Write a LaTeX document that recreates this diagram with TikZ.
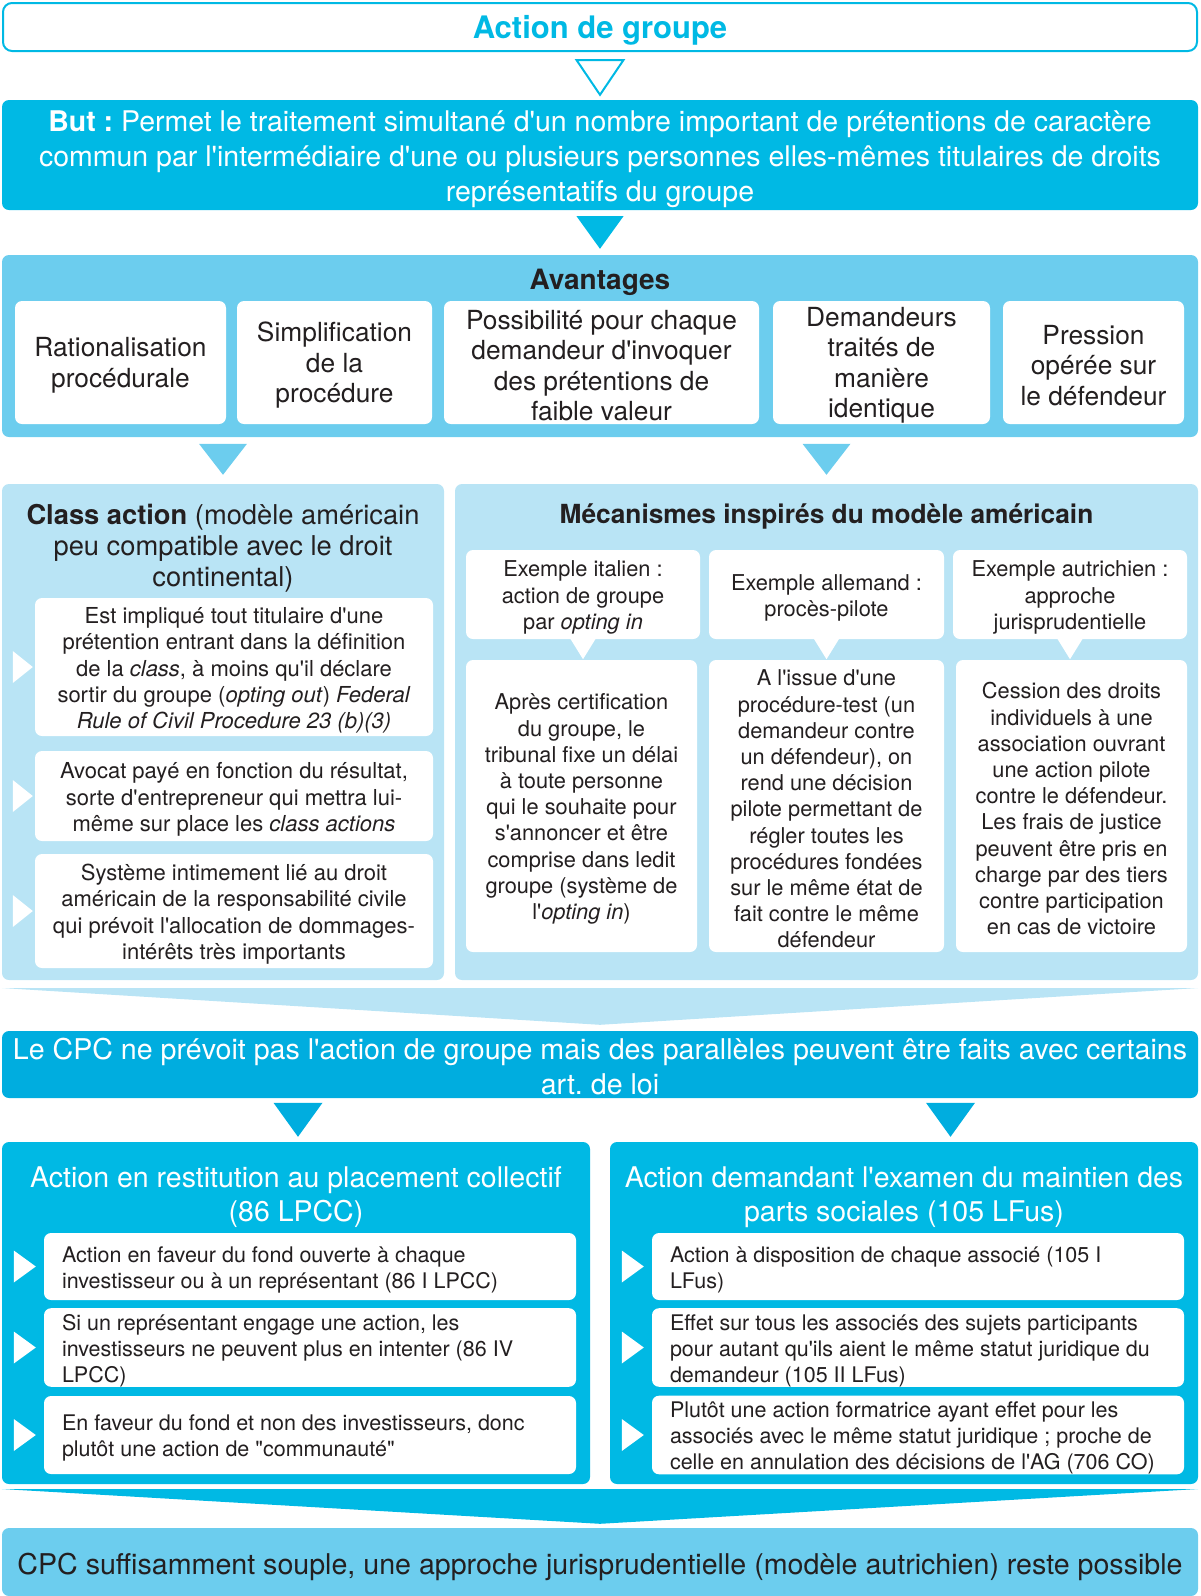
\documentclass[tikz,border=0pt]{standalone}
\usepackage{fontspec}
\setmainfont{TeX Gyre Heros}[Ligatures=TeXOff]
\usetikzlibrary{calc}
\definecolor{cyanmain}{HTML}{00B9E4}
\definecolor{cyandeep}{HTML}{00ADDF}
\definecolor{cyanmid}{HTML}{6CCDEE}
\definecolor{cyanpale}{HTML}{B9E4F5}
\definecolor{ink}{HTML}{231F20}
\newcommand\fs[2]{\fontsize{#1}{#2}\selectfont\frenchspacing}
\begin{document}
\begin{tikzpicture}[x=1pt,y=-1pt,
  panel/.style={rounded corners=7, inner sep=0pt},
  topstrut/.style={execute at begin node={\noindent\rule{0pt}{#1}}},
  boxw/.style={minimum width=#1pt, text width=#1pt},
  wbox/.style={fill=white, rounded corners=7, inner sep=0pt, text=ink, align=flush center},
  itembox/.style={fill=white, rounded corners=7, inner sep=0pt, text=ink, align=flush left},
  lbl/.style={inner sep=0pt, align=center}]
\useasboundingbox (0,0) rectangle (1200,1596);

% ---------- heading ----------
\node[draw=cyanmain, line width=2pt, fill=white, rounded corners=9, minimum width=1194, minimum height=48] (title) at (600,27) {};
\node[lbl, text=cyanmain, font={\fs{31}{36}\bfseries}] (titletext) at (600,30) {Action de groupe};

\node[panel, fill=cyanmain, boxw=1196, minimum height=110, text=white, align=flush center, font={\fs{28.5}{35}}, topstrut=29pt] (but) at (600,155)
  {\textbf{But :} Permet le traitement simultané d'un nombre important de prétentions de caractère\\
   commun par l'intermédiaire d'une ou plusieurs personnes elles-mêmes titulaires de droits\\
   représentatifs du groupe};

\draw[cyanmain, line width=2pt, fill=white, line join=miter]
  ($(title.south)+(-23.5,8)$) -- ($(title.south)+(23.5,8)$) -- ($(but.north)+(0,-5)$) -- cycle;

% ---------- advantages ----------
\node[panel, fill=cyanmid, minimum width=1196, minimum height=182] (adv) at (600,346) {};
\node[lbl, text=ink, font={\fs{28}{30}\bfseries}] (advtitle) at (600,282) {Avantages};
\tikzset{advbox/.style={wbox, minimum height=123, font=\fs{26.3}{30.4}, topstrut=25pt}}
\node[advbox, boxw=211] (a1) at (120.5,362.5) {Rationalisation\\procédurale};
\node[advbox, boxw=195] (a2) at (334.5,362.5) {Simplification\\de la\\procédure};
\node[advbox, boxw=315] (a3) at (601.5,362.5) {Possibilité pour chaque\\demandeur d'invoquer\\des prétentions de\\faible valeur};
\node[advbox, boxw=217] (a4) at (881.5,362.5) {Demandeurs\\traités de\\manière\\identique};
\node[advbox, boxw=181] (a5) at (1093.5,362.5) {Pression\\opérée sur\\le défendeur};

\fill[cyanmain] ($(but.south)+(-23.5,6)$) -- ($(but.south)+(23.5,6)$) -- ($(adv.north)+(0,-6)$) -- cycle;

% ---------- class action ----------
\node[panel, fill=cyanpale, minimum width=442, minimum height=496] (classp) at (223,732) {};
\node[lbl, text=ink, font={\fs{27.3}{31}}] (classtitle) at (223,548) {\textbf{Class action} (modèle américain\\peu compatible avec le droit\\continental)};
\tikzset{classbox/.style={wbox, boxw=398, font=\fs{22}{26.3}, topstrut=23pt}}
\node[classbox, minimum height=138] (c1) at (234,667)
  {Est impliqué tout titulaire d'une\\prétention entrant dans la définition\\de la \textit{class}, à moins qu'il déclare\\sortir du groupe (\textit{opting out}) \textit{Federal}\\\textit{Rule of Civil Procedure 23 (b)(3)}};
\node[classbox, minimum height=90] (c2) at (234,796)
  {Avocat payé en fonction du résultat,\\sorte d'entrepreneur qui mettra lui-\\même sur place les \textit{class actions}};
\node[classbox, minimum height=114] (c3) at (234,911)
  {Système intimement lié au droit\\américain de la responsabilité civile\\qui prévoit l'allocation de dommages-\\intérêts très importants};
\foreach \b in {c1,c2,c3}
  \fill[white] ($(\b.west)+(-22,-16)$) -- ($(\b.west)+(-22,16)$) -- ($(\b.west)+(-2,0)$) -- cycle;

% ---------- mechanisms ----------
\node[panel, fill=cyanpale, minimum width=743, minimum height=496] (mechp) at (826.5,732) {};
\node[lbl, text=ink, font={\fs{26.3}{29}\bfseries}] (mechtitle) at (826.5,516) {Mécanismes inspirés du modèle américain};
\tikzset{mechbox/.style={wbox, font=\fs{21.8}{26.2}, topstrut=22pt}}
\node[mechbox, boxw=234, minimum height=89] (m1) at (583,594.5) {Exemple italien :\\action de groupe\\par \textit{opting in}};
\node[mechbox, boxw=235, minimum height=89] (m2) at (826.5,594.5) {Exemple allemand :\\procès-pilote};
\node[mechbox, boxw=234, minimum height=89] (m3) at (1070,594.5) {Exemple autrichien :\\approche\\jurisprudentielle};
\node[mechbox, boxw=231, minimum height=292] (n1) at (581.5,806)
  {Après certification\\du groupe, le\\tribunal fixe un délai\\à toute personne\\qui le souhaite pour\\s'annoncer et être\\comprise dans ledit\\groupe (système de\\l'\textit{opting in})};
\node[mechbox, boxw=235, minimum height=292] (n2) at (826.5,806)
  {A l'issue d'une\\procédure-test (un\\demandeur contre\\un défendeur), on\\rend une décision\\pilote permettant de\\régler toutes les\\procédures fondées\\sur le même état de\\fait contre le même\\défendeur};
\node[mechbox, boxw=231, minimum height=292] (n3) at (1071.5,806)
  {Cession des droits\\individuels à une\\association ouvrant\\une action pilote\\contre le défendeur.\\Les frais de justice\\peuvent être pris en\\charge par des tiers\\contre participation\\en cas de victoire};
\foreach \t in {m1,m2,m3}
  \fill[white] ($(\t.south)+(-13,-1)$) -- ($(\t.south)+(13,-1)$) -- ($(\t.south)+(0,20)$) -- cycle;

\fill[cyanmid] ($(classp.north)+(-24,-40)$) -- ($(classp.north)+(24,-40)$) -- ($(classp.north)+(0,-9)$) -- cycle;
\fill[cyanmid] ($(mechp.north)+(-24,-40)$) -- ($(mechp.north)+(24,-40)$) -- ($(mechp.north)+(0,-9)$) -- cycle;

% ---------- CPC ----------
\node[panel, fill=cyandeep, minimum width=1196, minimum height=67] (cpc) at (600,1064.5) {};
\node[lbl, text=white, font={\fs{28.6}{35}}] (cpctext) at (600,1066.5)
  {Le CPC ne prévoit pas l'action de groupe mais des parallèles peuvent être faits avec certains\\art. de loi};
\fill[cyanpale] (classp.south west |- 0,988) -- (mechp.south east |- 0,988) -- ($(cpc.north)+(0,-6)$) -- cycle;

% ---------- two legal actions ----------
\node[panel, fill=cyanmain, minimum width=588, minimum height=342] (lp) at (296,1313) {};
\node[panel, fill=cyanmain, minimum width=588, minimum height=342] (rp) at (904,1313) {};
\node[lbl, text=white, font={\fs{28.5}{34.5}}] (lptitle) at (296,1197) {Action en restitution au placement collectif\\(86 LPCC)};
\node[lbl, text=white, font={\fs{28.5}{34.5}}] (rptitle) at (904,1197) {Action demandant l'examen du maintien des\\parts sociales (105 LFus)};

\fill[cyandeep] ($(lp.north)+(-22.5,-39)$) -- ($(lp.north)+(26.5,-39)$) -- ($(lp.north)+(2,-5)$) -- cycle;
\fill[cyandeep] ($(rp.north)+(22,-39)$) -- ($(rp.north)+(71,-39)$) -- ($(rp.north)+(46.5,-5)$) -- cycle;

\tikzset{item/.style={itembox, minimum width=532, text width=496, font=\fs{21.5}{26}, topstrut=22pt}}
\node[item, minimum height=67] (l1) at (310,1266.5) {Action en faveur du fond ouverte à chaque\\investisseur ou à un représentant (86 I LPCC)};
\node[item, minimum height=77] (l2) at (310,1347.5) {Si un représentant engage une action, les\\investisseurs ne peuvent plus en intenter (86 IV\\LPCC)};
\node[item, minimum height=78] (l3) at (310,1435) {En faveur du fond et non des investisseurs, donc\\plutôt une action de "communauté"};
\node[item, minimum height=67] (r1) at (918,1266.5) {Action à disposition de chaque associé (105 I\\LFus)};
\node[item, minimum height=77] (r2) at (918,1347.5) {Effet sur tous les associés des sujets participants\\pour autant qu'ils aient le même statut juridique du\\demandeur (105 II LFus)};
\node[item, minimum height=78] (r3) at (918,1435) {Plutôt une action formatrice ayant effet pour les\\associés avec le même statut juridique ; proche de\\celle en annulation des décisions de l'AG (706 CO)};
\foreach \b in {l1,l2,l3,r1,r2,r3}
  \fill[white] ($(\b.west)+(-30,-16)$) -- ($(\b.west)+(-30,16)$) -- ($(\b.west)+(-8,0)$) -- cycle;

% ---------- conclusion ----------
\node[panel, fill=cyanmid, minimum width=1196, minimum height=68] (final) at (600,1562) {};
\node[lbl, text=ink, font={\fs{28.6}{34}}] (finaltext) at (600,1567) {CPC suffisamment souple, une approche jurisprudentielle (modèle autrichien) reste possible};
\fill[cyanmain] (lp.south west |- 0,1489) -- (rp.south east |- 0,1489) -- ($(final.north)+(0,-4)$) -- cycle;
\end{tikzpicture}
\end{document}
